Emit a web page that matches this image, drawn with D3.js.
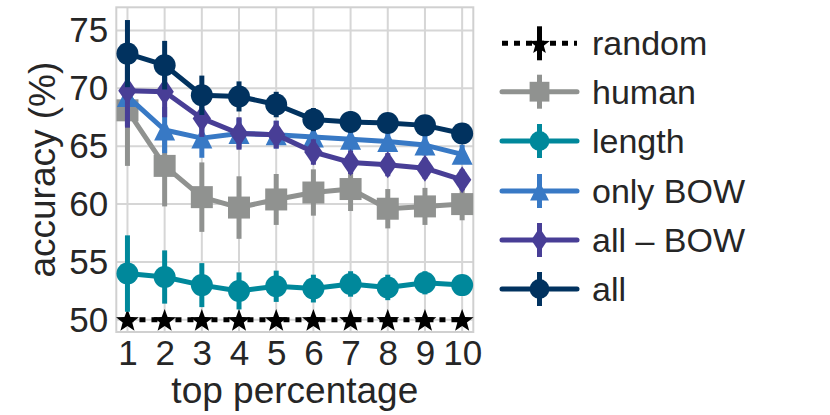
<!DOCTYPE html>
<html><head><meta charset="utf-8">
<script src="https://cdn.jsdelivr.net/npm/d3@7"></script>
<style>html,body{margin:0;padding:0;background:#fff;} text{font-family:"Liberation Sans",Arial,sans-serif;fill:#262626;}</style>
</head><body><div id="chart"></div>
<script>
const xValues = [1,2,3,4,5,6,7,8,9,10];
const seriesNames = ["random","human","length","only BOW","all \u2013 BOW","all"];
const randomVals = [50,50,50,50,50,50,50,50,50,50];
const randomErr  = [0,0,0,0,0,0,0,0,0,0];
const humanVals  = [68.1,63.3,60.6,59.7,60.4,61.0,61.3,59.6,59.8,60.0];
const humanErr   = [4.8,3.5,3.0,2.7,2.2,2.0,1.9,1.7,1.6,1.4];
const lengthVals = [54.0,53.7,53.0,52.5,52.9,52.7,53.1,52.8,53.2,53.0];
const lengthErr  = [3.3,2.3,1.9,1.6,1.35,1.2,1.1,1.1,1.0,0.8];
const onlyBowVals= [69.3,66.4,65.7,66.1,66.0,65.8,65.6,65.4,65.1,64.3];
const onlyBowErr = [2.6,2.0,1.7,1.3,1.2,1.0,1.0,0.9,0.9,0.8];
const allMinusVals=[69.8,69.7,67.4,66.1,66.0,64.5,63.6,63.4,63.1,62.1];
const allMinusErr= [3.2,2.2,1.6,1.4,1.2,1.1,1.0,1.0,0.9,0.9];
const allVals    = [73.0,72.0,69.4,69.3,68.6,67.3,67.1,67.0,66.8,66.1];
const allErr     = [2.9,2.1,1.7,1.3,1.1,1.0,0.9,0.8,0.8,0.7];
const yTicks = [50,55,60,65,70,75];
const xTicks = [1,2,3,4,5,6,7,8,9,10];

const W=830,H=415;
const L=116.3,R=473.3,T=7.3,B=332;
const svg=d3.select("#chart").append("svg").attr("width",W).attr("height",H);
svg.append("rect").attr("width",W).attr("height",H).attr("fill","#fff");
const x=d3.scaleLinear().domain([0.7,10.3]).range([L,R]);
const y=d3.scaleLinear().domain([48.95,77.0]).range([B,T]);

// custom symbol types (size = width in px)
const sq={draw(c,s){const h=s/2;c.moveTo(-h,-h);c.lineTo(h,-h);c.lineTo(h,h);c.lineTo(-h,h);c.closePath();}};
const circ={draw(c,s){const r=s/2;c.moveTo(r,0);c.arc(0,0,r,0,2*Math.PI);}};
const tri={draw(c,s){const h=s/2;c.moveTo(0,-h);c.lineTo(h,h);c.lineTo(-h,h);c.closePath();}};
const thinD={draw(c,s){const h=s/2,w=s*0.34;c.moveTo(0,-h);c.lineTo(w,0);c.lineTo(0,h);c.lineTo(-w,0);c.closePath();}};
const star={draw(c,s){const ro=s/2,ri=ro*0.42;for(let i=0;i<10;i++){const r=i%2?ri:ro;const a=-Math.PI/2+i*Math.PI/5;const px=r*Math.cos(a),py=r*Math.sin(a)+ro*0.1;i?c.lineTo(px,py):c.moveTo(px,py);}c.closePath();}};

const series=[
 {name:seriesNames[0],vals:randomVals,err:randomErr,color:"#000000",sym:star,size:24,dash:"6,6"},
 {name:seriesNames[1],vals:humanVals,err:humanErr,color:"#909290",sym:sq,size:22,dash:null},
 {name:seriesNames[2],vals:lengthVals,err:lengthErr,color:"#00889b",sym:circ,size:22,dash:null},
 {name:seriesNames[3],vals:onlyBowVals,err:onlyBowErr,color:"#3879c5",sym:tri,size:21,dash:null},
 {name:seriesNames[4],vals:allMinusVals,err:allMinusErr,color:"#483e96",sym:thinD,size:27,dash:null},
 {name:seriesNames[5],vals:allVals,err:allErr,color:"#01325f",sym:circ,size:22,dash:null}
];

// grid
const grid=svg.append("g");
grid.selectAll("line.v").data(xTicks).enter().append("line")
 .attr("x1",d=>x(d)).attr("x2",d=>x(d)).attr("y1",T).attr("y2",B)
 .attr("stroke","#d6d6d6").attr("stroke-width",2);
grid.selectAll("line.h").data(yTicks).enter().append("line")
 .attr("x1",L).attr("x2",R).attr("y1",d=>y(d)).attr("y2",d=>y(d))
 .attr("stroke","#d6d6d6").attr("stroke-width",2);
svg.append("rect").attr("x",L).attr("y",T).attr("width",R-L).attr("height",B-T)
 .attr("fill","none").attr("stroke","#d0d0d0").attr("stroke-width",2);

// series
const lineGen=d3.line().x((d,i)=>x(xValues[i])).y(d=>y(d));
series.forEach(s=>{
 const g=svg.append("g");
 g.selectAll("line.err").data(s.vals).enter().append("line")
  .attr("x1",(d,i)=>x(xValues[i])).attr("x2",(d,i)=>x(xValues[i]))
  .attr("y1",(d,i)=>y(d-s.err[i])).attr("y2",(d,i)=>y(d+s.err[i]))
  .attr("stroke",s.color).attr("stroke-width",5);
 g.append("path").attr("d",lineGen(s.vals)).attr("fill","none")
  .attr("stroke",s.color).attr("stroke-width",5)
  .attr("stroke-dasharray",s.dash).attr("stroke-linejoin","round");
 g.selectAll("path.m").data(s.vals).enter().append("path")
  .attr("d",d3.symbol().type(s.sym).size(s.size))
  .attr("transform",(d,i)=>`translate(${x(xValues[i])},${y(d)})`)
  .attr("fill",s.color);
});

// axes text
const yAxis=d3.axisLeft(y).tickValues(yTicks).tickSize(0).tickPadding(8);
const ya=svg.append("g").attr("transform",`translate(${L},0)`).call(yAxis);
ya.select(".domain").remove();
ya.selectAll("text").attr("font-size",35).attr("fill","#262626").attr("font-family","Liberation Sans, Arial, sans-serif");
const xAxis=d3.axisBottom(x).tickValues(xTicks).tickSize(0).tickPadding(8);
const xa=svg.append("g").attr("transform",`translate(0,${B})`).call(xAxis);
xa.select(".domain").remove();
xa.selectAll("text").attr("font-size",35).attr("fill","#262626").attr("font-family","Liberation Sans, Arial, sans-serif");

svg.append("text").attr("x",(L+R)/2).attr("y",403).attr("text-anchor","middle")
 .attr("font-size",37).text("top percentage");
svg.append("text").attr("transform",`translate(55,${(T+B)/2}) rotate(-90)`).attr("text-anchor","middle")
 .attr("font-size",37).text("accuracy (%)");

// legend
const legY=[43.3,91.7,141,191,240,289];
series.forEach((s,k)=>{
 const g=svg.append("g").attr("transform",`translate(0,${legY[k]})`);
 g.append("line").attr("x1",502).attr("x2",577).attr("y1",0).attr("y2",0)
  .attr("stroke",s.color).attr("stroke-width",5).attr("stroke-dasharray",s.dash)
  .attr("stroke-linecap",s.dash?"butt":"round");
 g.append("line").attr("x1",539.5).attr("x2",539.5).attr("y1",-17).attr("y2",17)
  .attr("stroke",s.color).attr("stroke-width",5);
 g.append("path").attr("d",d3.symbol().type(s.sym).size(s.size*0.9))
  .attr("transform","translate(539.5,0)").attr("fill",s.color);
 g.append("text").attr("x",592).attr("y",12).attr("font-size",34).text(s.name);
});
</script></body></html>
